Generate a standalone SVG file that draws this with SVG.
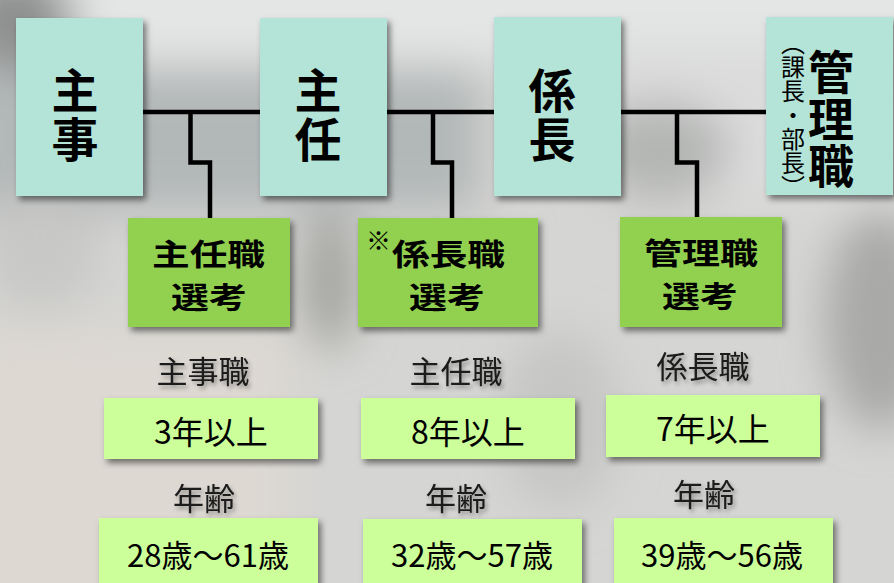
<svg xmlns="http://www.w3.org/2000/svg" width="894" height="583" viewBox="0 0 894 583">
<defs>
<filter id="bgblur" x="-10%" y="-10%" width="120%" height="120%"><feGaussianBlur stdDeviation="22"/></filter>
<filter id="sh" x="-10%" y="-10%" width="125%" height="125%"><feDropShadow dx="3" dy="4" stdDeviation="3" flood-color="#000" flood-opacity="0.5"/></filter>
<filter id="tsh" x="-10%" y="-20%" width="125%" height="150%"><feDropShadow dx="2" dy="3" stdDeviation="2" flood-color="#000" flood-opacity="0.35"/></filter>
<style>
.top{fill:#b3e4d7}
.sel{fill:#92d050}
.req{fill:#ccff99}
.vt{font-family:"Noto Sans CJK JP","Noto Sans",sans-serif;font-weight:700;fill:#000;writing-mode:vertical-rl}
.bt{font-size:47px;letter-spacing:2px}
.gt{font-family:"Noto Sans CJK JP","Noto Sans",sans-serif;font-weight:700;font-size:29.5px;fill:#000}
.lbl{font-family:"Noto Sans CJK JP","Noto Sans",sans-serif;font-weight:400;font-size:31px;fill:#1a1a1a;text-anchor:middle}
.val{font-family:"Noto Sans CJK JP","Noto Sans",sans-serif;font-weight:400;font-size:32px;fill:#000;text-anchor:middle}
.age{font-size:31px}
.sm{font-family:"Noto Sans CJK JP","Noto Sans",sans-serif;font-weight:400;font-size:24px;fill:#000;writing-mode:vertical-rl}
.conn{fill:none;stroke:#000;stroke-width:4.5;stroke-linejoin:miter}
</style>
</defs>

<g id="background">
<rect width="894" height="583" fill="#d5d5d3"/>
<g filter="url(#bgblur)">
<rect x="-50" y="-50" width="1000" height="110" fill="#e4e6e6"/>
<ellipse cx="15" cy="20" rx="60" ry="55" fill="#8e8f8f"/>
<rect x="-40" y="70" width="520" height="140" fill="#b2b7b7"/>
<rect x="600" y="40" width="320" height="160" fill="#dcdcdc"/>
<ellipse cx="660" cy="150" rx="70" ry="50" fill="#b4b6b4"/>
<rect x="-40" y="330" width="330" height="300" fill="#ddd8d2"/>
<ellipse cx="330" cy="280" rx="28" ry="70" fill="#a2a29e"/>
<ellipse cx="880" cy="320" rx="55" ry="110" fill="#a9a9a7"/>
<ellipse cx="560" cy="420" rx="60" ry="90" fill="#c6c6c4"/>
<ellipse cx="40" cy="250" rx="60" ry="60" fill="#c8c8c6"/>
</g>
</g>

<g id="connectors">
<line class="conn" x1="140" y1="112" x2="770" y2="112"/>
<path class="conn" d="M190.5,112 V162.5 H210 V220"/>
<path class="conn" d="M433,112 V162.5 H452 V220"/>
<path class="conn" d="M677,112 V162.5 H697 V220"/>
</g>

<g id="node-shuji">
<rect class="top" x="16" y="18" width="127" height="178" filter="url(#sh)"/>
<text class="vt bt" x="75" y="67">主事</text>
</g>
<g id="node-shunin">
<rect class="top" x="260" y="18" width="127" height="178" filter="url(#sh)"/>
<text class="vt bt" x="318" y="67">主任</text>
</g>
<g id="node-kakaricho">
<rect class="top" x="494" y="17" width="127" height="179" filter="url(#sh)"/>
<text class="vt bt" x="552" y="67">係長</text>
</g>
<g id="node-kanrishoku">
<rect class="top" x="766" y="17" width="127" height="178" filter="url(#sh)"/>
<text class="vt" x="831" y="49" style="font-size:46px;letter-spacing:1px">管理職</text>
<text class="sm" x="793" y="31">（課長・部長）</text>
</g>

<g id="node-shunin-senko">
<rect class="sel" x="128" y="218" width="162" height="109" filter="url(#sh)"/>
<text class="gt" x="152" y="265" textLength="113" lengthAdjust="spacingAndGlyphs">主任職</text>
<text class="gt" x="171" y="308" textLength="76" lengthAdjust="spacingAndGlyphs">選考</text>
</g>
<g id="node-kakaricho-senko">
<rect class="sel" x="358" y="218" width="180" height="109" filter="url(#sh)"/>
<text class="gt" x="366" y="250"><tspan style="font-size:25px;font-weight:400">※</tspan><tspan x="392" y="265" textLength="113" lengthAdjust="spacingAndGlyphs">係長職</tspan></text>
<text class="gt" x="409" y="308" textLength="76" lengthAdjust="spacingAndGlyphs">選考</text>
</g>
<g id="node-kanri-senko">
<rect class="sel" x="620" y="217" width="162" height="110" filter="url(#sh)"/>
<text class="gt" x="644" y="264" textLength="114" lengthAdjust="spacingAndGlyphs">管理職</text>
<text class="gt" x="662" y="307" textLength="76" lengthAdjust="spacingAndGlyphs">選考</text>
</g>

<g id="req-shuji">
<text class="lbl" x="203" y="383" filter="url(#tsh)">主事職</text>
<rect class="req" x="104" y="398" width="214" height="61" filter="url(#sh)"/>
<text class="val" x="211" y="444">3年以上</text>
<text class="lbl" x="204" y="510" filter="url(#tsh)">年齢</text>
<rect class="req" x="99" y="518" width="219" height="75" filter="url(#sh)"/>
<text class="val age" x="208" y="567">28歳～61歳</text>
</g>
<g id="req-shunin">
<text class="lbl" x="456" y="383" filter="url(#tsh)">主任職</text>
<rect class="req" x="361" y="398" width="214" height="61" filter="url(#sh)"/>
<text class="val" x="468" y="444">8年以上</text>
<text class="lbl" x="456" y="510" filter="url(#tsh)">年齢</text>
<rect class="req" x="363" y="519" width="219" height="75" filter="url(#sh)"/>
<text class="val age" x="472" y="567">32歳～57歳</text>
</g>
<g id="req-kakaricho">
<text class="lbl" x="703" y="378" filter="url(#tsh)">係長職</text>
<rect class="req" x="606" y="395" width="214" height="62" filter="url(#sh)"/>
<text class="val" x="713" y="441">7年以上</text>
<text class="lbl" x="704" y="506" filter="url(#tsh)">年齢</text>
<rect class="req" x="614" y="518" width="219" height="75" filter="url(#sh)"/>
<text class="val age" x="722" y="567">39歳～56歳</text>
</g>
</svg>
